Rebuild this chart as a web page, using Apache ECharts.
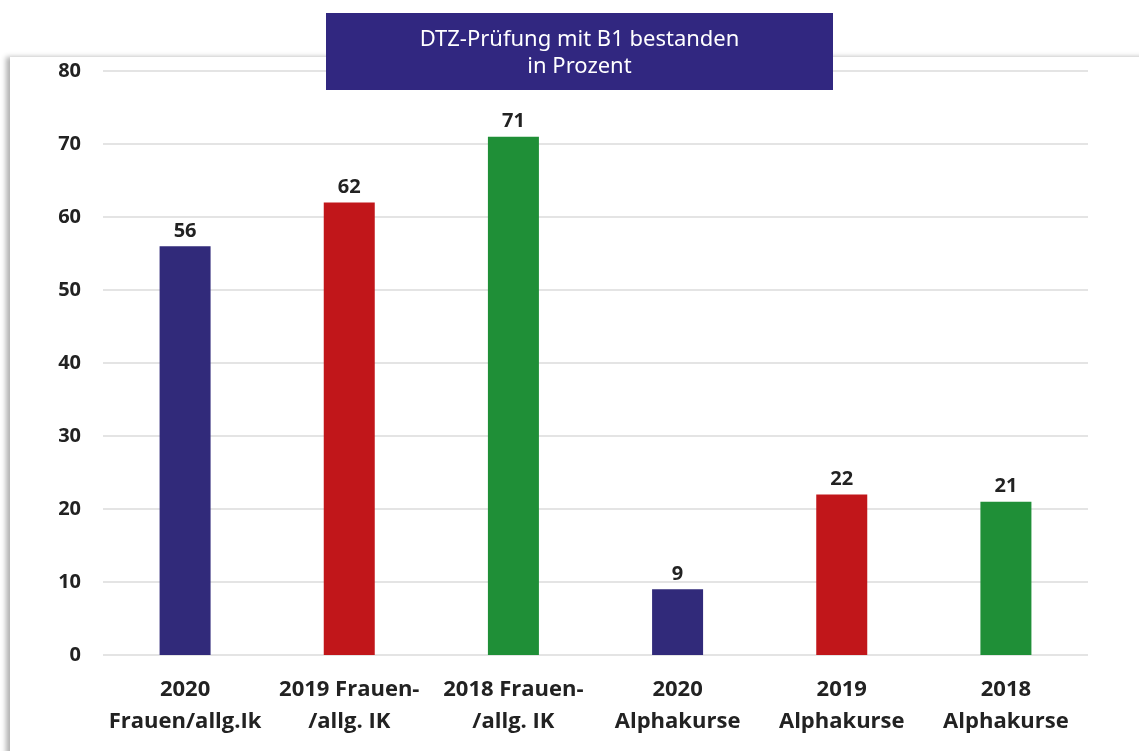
<!DOCTYPE html>
<html>
<head>
<meta charset="utf-8">
<script src="https://cdn.jsdelivr.net/npm/echarts@6/dist/echarts.min.js"></script>
<style>
  html, body { margin: 0; padding: 0; background: #fff; }
  #wrap { position: relative; width: 1139px; height: 751px; overflow: hidden; }
  #card {
    position: absolute; left: 10px; top: 57px; width: 1200px; height: 760px;
    box-shadow: -4px 0 5px rgba(0, 0, 0, 0.3);
    background: #fff;
  }
  #chart { position: absolute; left: 0; top: 0; width: 1139px; height: 751px; }
</style>
</head>
<body>
<div id="wrap">
  <div id="card"></div>
  <div id="chart"></div>
</div>
<script>
// categories (two-line labels)
const categories = [
  '2020\nFrauen/allg.Ik',
  '2019 Frauen-\n/allg. IK',
  '2018 Frauen-\n/allg. IK',
  '2020\nAlphakurse',
  '2019\nAlphakurse',
  '2018\nAlphakurse'
];
// Prozent bestanden
const values = [56, 62, 71, 9, 22, 21];
const barColors = ['#312a7a', '#c1161a', '#1f8f37', '#312a7a', '#c1161a', '#1f8f37'];
const titleLines = ['DTZ-Prüfung mit B1 bestanden', 'in Prozent'];

const chart = echarts.init(document.getElementById('chart'));

const option = {
  animation: false,
  grid: { left: 103, right: 51, top: 71, bottom: 96, containLabel: false },
  xAxis: {
    type: 'category',
    data: categories,
    axisLine: { show: false },
    axisTick: { show: false },
    axisLabel: {
      interval: 0,
      margin: 19,
      color: '#222',
      fontFamily: 'Open Sans',
      fontWeight: 'bold',
      fontSize: 22,
      lineHeight: 32
    }
  },
  yAxis: {
    type: 'value',
    min: 0,
    max: 80,
    interval: 10,
    axisLine: { show: false },
    axisTick: { show: false },
    axisLabel: {
      margin: 22,
      color: '#222',
      fontFamily: 'Open Sans',
      fontWeight: 'bold',
      fontSize: 20
    },
    splitLine: { lineStyle: { color: '#e4e4e4', width: 2 } }
  },
  series: [{
    type: 'bar',
    barWidth: 51,
    data: values.map((v, i) => ({ value: v, itemStyle: { color: barColors[i] } })),
    label: {
      show: true,
      position: 'top',
      distance: 5,
      color: '#222',
      fontFamily: 'Open Sans',
      fontWeight: 'bold',
      fontSize: 20
    }
  }],
  graphic: [
    {
      type: 'rect',
      left: 326, top: 13,
      shape: { width: 507, height: 77 },
      style: { fill: '#312780' },
      z: 10
    },
    {
      type: 'text',
      x: 579.5,
      y: 26,
      z: 11,
      style: {
        text: titleLines.join('\n'),
        fill: '#fff',
        font: '22px "Noto Sans"',
        lineHeight: 27,
        align: 'center'
      }
    }
  ]
};

chart.setOption(option);
</script>
</body>
</html>
